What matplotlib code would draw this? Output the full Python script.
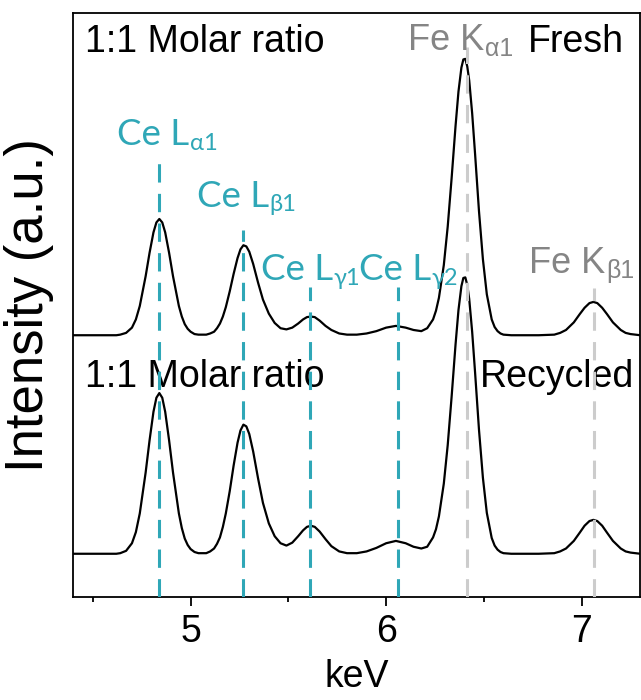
import matplotlib
matplotlib.use("Agg")
import matplotlib.pyplot as plt

# EDS spectra (keV vs. intensity, arbitrary units) of the 1:1 molar ratio sample
energy = [4.40, 4.50, 4.58, 4.62, 4.64, 4.67, 4.70, 4.72, 4.74, 4.77, 4.79, 4.81,
          4.825, 4.84, 4.855, 4.87, 4.89, 4.91, 4.94, 4.955, 4.97, 4.985, 5.00, 5.02,
          5.04, 5.08, 5.10, 5.12, 5.135, 5.15, 5.165, 5.18, 5.20, 5.22, 5.24, 5.255,
          5.27, 5.285, 5.30, 5.32, 5.345, 5.37, 5.40, 5.43, 5.46, 5.49, 5.52, 5.55,
          5.575, 5.595, 5.615, 5.635, 5.66, 5.69, 5.72, 5.76, 5.80, 5.85, 5.90, 5.95,
          6.00, 6.05, 6.10, 6.14, 6.18, 6.21, 6.24, 6.255, 6.27, 6.295, 6.315, 6.335,
          6.355, 6.37, 6.385, 6.395, 6.405, 6.415, 6.425, 6.44, 6.455, 6.475, 6.495,
          6.515, 6.54, 6.555, 6.57, 6.585, 6.60, 6.64, 6.70, 6.78, 6.86, 6.89, 6.92,
          6.96, 6.99, 7.015, 7.04, 7.06, 7.08, 7.105, 7.13, 7.16, 7.20, 7.225, 7.25,
          7.275, 7.30]

fresh = [44.8, 44.8, 44.8, 44.8, 44.9, 45.2, 46.1, 47.5, 49.8, 54.9, 58.9, 62.4,
         64.1, 64.7, 64.1, 62.4, 58.9, 54.9, 49.8, 48.0, 46.7, 45.9, 45.4, 45.0,
         44.9, 44.9, 45.1, 45.4, 46.0, 46.8, 48.0, 49.6, 52.3, 55.3, 58.0, 59.5,
         60.2, 60.0, 59.1, 57.0, 53.8, 50.9, 48.5, 46.9, 46.0, 45.8, 46.1, 46.8,
         47.5, 47.9, 48.0, 47.9, 47.3, 46.4, 45.7, 45.1, 44.9, 44.9, 45.1, 45.5,
         46.1, 46.4, 46.1, 45.7, 45.5, 46.0, 47.5, 49.0, 51.2, 56.8, 63.4, 71.7,
         80.6, 86.5, 90.6, 92.0, 92.1, 90.8, 88.4, 82.8, 75.8, 66.0, 57.8,
         51.8, 47.5, 46.2, 45.5, 45.1, 44.9, 44.8, 44.8, 44.8, 44.9, 45.2, 45.7,
         47.0, 48.4, 49.5, 50.3, 50.5, 50.3, 49.5, 48.4, 47.0, 45.7, 45.2, 45.0,
         44.9, 44.8]

recycled = [7.4, 7.4, 7.4, 7.4, 7.5, 7.9, 9.2, 11.1, 14.3, 21.3, 26.8, 31.7,
            34.1, 34.9, 34.1, 31.7, 26.8, 21.3, 14.3, 11.8, 10.0, 8.9, 8.2, 7.7,
            7.5, 7.5, 7.8, 8.3, 9.1, 10.2, 12.0, 14.3, 18.1, 22.5, 26.4, 28.5,
            29.5, 29.2, 27.9, 24.9, 20.3, 16.1, 12.6, 10.4, 9.2, 8.8, 9.3, 10.4,
            11.4, 12.0, 12.2, 12.0, 11.2, 9.9, 8.7, 7.8, 7.5, 7.5, 7.8, 8.4,
            9.2, 9.6, 9.2, 8.6, 8.3, 8.6, 10.2, 11.6, 13.8, 19.4, 26.0, 34.3,
            43.2, 49.1, 53.2, 54.6, 54.7, 53.4, 51.0, 45.4, 38.4, 28.6, 20.4,
            14.4, 10.1, 8.8, 8.1, 7.7, 7.5, 7.4, 7.4, 7.4, 7.5, 7.8, 8.3,
            9.6, 11.0, 12.2, 13.0, 13.2, 13.0, 12.2, 11.0, 9.6, 8.3, 7.8, 7.6,
            7.5, 7.4]

# Characteristic X-ray lines: position (keV), top of marker line, label
ce_lines = [4.84, 5.266, 5.61, 6.06]
ce_tops = [74.3, 62.8, 53.1, 53.1]
ce_subs = ["α1", "β1", "γ1", "γ2"]
ce_label_x = [4.622, 5.031, 5.358, 5.862]
ce_label_y = [77.4, 66.8, 54.3, 54.3]

fe_lines = [6.414, 7.064]
fe_tops = [94.1, 52.9]
fe_subs = ["α1", "β1"]
fe_label_x = [6.111, 6.730]
fe_label_y = [93.6, 55.5]

sample_text = "1:1 Molar ratio"
state_labels = ["Fresh", "Recycled"]
state_x = [6.725, 6.480]
text_y = [93.3, 35.9]

x_major = [5, 6, 7]
x_minor = [4.5, 5.5, 6.5]

TEAL = "#2fa7b7"
FE_TEXT = "#858585"
FE_LINE = "#cccccc"

plt.rcParams["font.family"] = ["Liberation Sans", "DejaVu Sans"]

fig = plt.figure(figsize=(6.41, 7.0), dpi=100)
ax = fig.add_axes([73.3 / 641, 103 / 700, 567 / 641, 584.3 / 700])

dash = (0, (6, 3.7))
for xc, top in zip(ce_lines, ce_tops):
    ax.plot([xc, xc], [0, top], color=TEAL, lw=2.2, linestyle=dash, zorder=3)
for xc, top in zip(fe_lines, fe_tops):
    ax.plot([xc, xc], [0, top], color=FE_LINE, lw=2.2, linestyle=dash, zorder=3)

ax.plot(energy, fresh, color="black", lw=1.6, zorder=2, solid_joinstyle="round")
ax.plot(energy, recycled, color="black", lw=1.6, zorder=2, solid_joinstyle="round")


def line_label(x, y, main, sub, color, family, size, subsize, drop):
    t = ax.text(x, y, main, color=color, fontsize=size, family=family,
                ha="left", va="baseline", zorder=4)
    ax.annotate(sub, xy=(1, 0), xycoords=t, xytext=(0.5, -drop),
                textcoords="offset points", color=color, fontsize=subsize,
                family=family, ha="left", va="bottom", zorder=4)


for x, y, s in zip(ce_label_x, ce_label_y, ce_subs):
    line_label(x, y, "Ce L", s, TEAL, ["Lato", "DejaVu Sans"], 26.5, 17, 2)
for x, y, s in zip(fe_label_x, fe_label_y, fe_subs):
    line_label(x, y, "Fe K", s, FE_TEXT, ["Liberation Sans", "DejaVu Sans"], 26, 18, 2)

for y in text_y:
    ax.text(4.459, y, sample_text, fontsize=27, ha="left", va="baseline", zorder=1)
for x, y, s in zip(state_x, text_y, state_labels):
    ax.text(x, y, s, fontsize=27, ha="left", va="baseline", zorder=1)

ax.set_xlim(4.40, 7.30)
ax.set_ylim(0, 100)
ax.set_xticks(x_major)
ax.set_xticks(x_minor, minor=True)
ax.set_yticks([])
ax.tick_params(axis="x", which="major", direction="out", length=6.5, width=1.3,
               labelsize=27, pad=6)
ax.tick_params(axis="x", which="minor", direction="out", length=3.6, width=1.3)
for sp in ax.spines.values():
    sp.set_linewidth(1.3)

ax.set_xlabel("keV", fontsize=27, labelpad=6)
ax.set_ylabel("Intensity (a.u.)", fontsize=38)
ax.yaxis.label.set_va("center")
ax.yaxis.set_label_coords(-0.079, 0.5)

fig.savefig("out.png", dpi=100)
